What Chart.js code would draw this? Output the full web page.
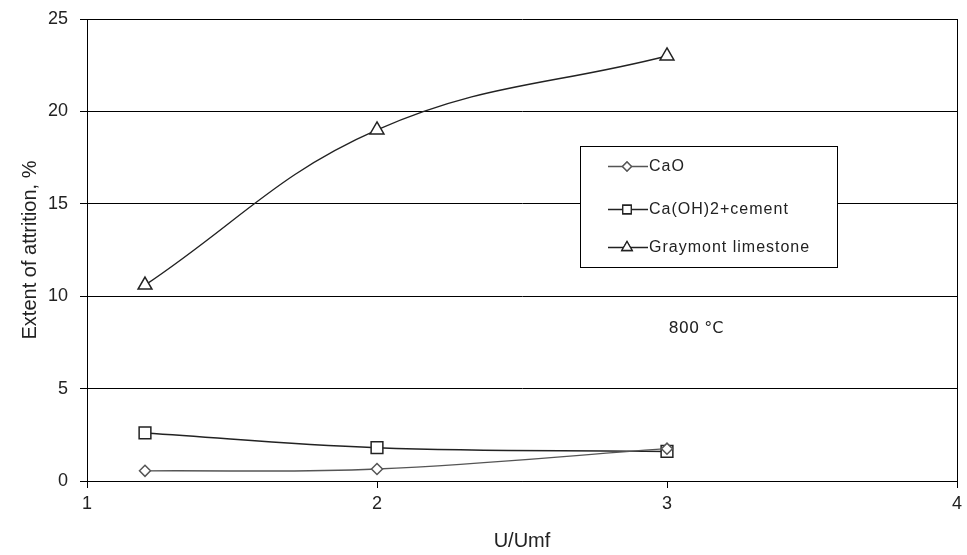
<!DOCTYPE html>
<html>
<head>
<meta charset="utf-8">
<script src="https://cdn.jsdelivr.net/npm/chart.js@4.4.1/dist/chart.umd.min.js"></script>
<style>
  html, body { margin: 0; padding: 0; background: #fff; }
  #wrap { width: 967px; height: 555px; }
</style>
</head>
<body>
<div id="wrap"><canvas id="chart" width="967" height="555"></canvas></div>
<script>
// ---- data ------------------------------------------------------------------
const xValues = [1.2, 2, 3];
const caoValues = [0.55, 0.65, 1.75];
const cementValues = [2.6, 1.8, 1.6];
const graymontValues = [10.6, 19.0, 23.0];
const seriesNames = ['CaO', 'Ca(OH)2+cement', 'Graymont limestone'];
const yTicks = [0, 5, 10, 15, 20, 25];
const xTicks = [1, 2, 3, 4];

const toPoints = (ys) => ys.map((y, i) => ({ x: xValues[i], y }));

// ---- plugins ---------------------------------------------------------------
const boxLegend = {
  id: 'boxLegend',
  afterDraw(chart) {
    const ctx = chart.ctx;
    const box = { x: 580.5, y: 146.5, w: 257, h: 121 };
    ctx.save();
    ctx.fillStyle = '#fff';
    ctx.fillRect(box.x, box.y, box.w, box.h);
    ctx.strokeStyle = '#000';
    ctx.lineWidth = 1;
    ctx.strokeRect(box.x, box.y, box.w, box.h);
    const rows = [166, 209, 247];
    chart.data.datasets.forEach((ds, i) => {
      const y = rows[i];
      ctx.strokeStyle = ds.borderColor;
      ctx.lineWidth = 1.3;
      ctx.beginPath();
      ctx.moveTo(608, y + 0.5);
      ctx.lineTo(648, y + 0.5);
      ctx.stroke();
      Chart.helpers.drawPoint(ctx, {
        pointStyle: ds.pointStyle,
        radius: ds.legendRadius,
        borderWidth: 1.3,
        rotation: 0,
      }, 627, y + 0.5);
      ctx.fillStyle = '#fff';
      ctx.strokeStyle = ds.pointBorderColor;
      ctx.fill();
      ctx.stroke();
      ctx.fillStyle = '#222';
      ctx.font = '16px "Liberation Sans", Arial, sans-serif';
      ctx.textBaseline = 'middle';
      ctx.textAlign = 'left';
      ctx.letterSpacing = '1px';
      ctx.fillText(ds.label, 649, y + 1);
    });
    ctx.restore();
  },
};

const note = { text: '800 °C', x: 3.1, y: 8.25 };
const noteLabel = {
  id: 'noteLabel',
  afterDraw(chart) {
    const ctx = chart.ctx;
    ctx.save();
    ctx.fillStyle = '#222';
    ctx.font = '16px "DejaVu Sans", sans-serif';
    ctx.textAlign = 'center';
    ctx.textBaseline = 'middle';
    ctx.fillText(note.text, chart.scales.x.getPixelForValue(note.x), chart.scales.y.getPixelForValue(note.y));
    ctx.restore();
  },
};

// ---- chart -----------------------------------------------------------------
Chart.defaults.font.family = '"Liberation Sans", Arial, sans-serif';

const lineDs = (label, values, style, radius, legendRadius, color) => ({
  label,
  data: toPoints(values),
  borderColor: color,
  borderWidth: 1.4,
  pointStyle: style,
  pointRadius: radius,
  pointHoverRadius: radius,
  legendRadius,
  pointBackgroundColor: '#fff',
  pointBorderColor: color,
  pointBorderWidth: 1.5,
  tension: 0.4,
  fill: false,
});

new Chart(document.getElementById('chart'), {
  type: 'line',
  data: {
    datasets: [
      lineDs(seriesNames[0], caoValues, 'rectRot', 5.5, 4.5, '#555'),
      lineDs(seriesNames[1], cementValues, 'rect', 8.3, 6, '#222'),
      lineDs(seriesNames[2], graymontValues, 'triangle', 8, 6, '#222'),
    ],
  },
  options: {
    responsive: false,
    animation: false,
    layout: { padding: { top: 19, right: 10, left: 0, bottom: 0 } },
    plugins: { legend: { display: false }, tooltip: { enabled: false } },
    scales: {
      x: {
        type: 'linear',
        min: 1,
        max: 4,
        afterBuildTicks: (s) => { s.ticks = xTicks.map((v) => ({ value: v })); },
        afterFit: (s) => { s.height = 74; s.paddingLeft = 0; s.paddingRight = 0; },
        ticks: { font: { size: 18 }, color: '#222', padding: 5 },
        grid: {
          color: (c) => (c.tick && c.tick.value === 4 ? '#000' : 'rgba(0,0,0,0)'),
          tickColor: '#000',
          tickLength: 7,
          lineWidth: 1,
        },
        border: { display: true, color: '#000', width: 1 },
        title: { display: true, text: 'U/Umf', font: { size: 20 }, color: '#222', padding: { top: 0, bottom: 2 } },
      },
      y: {
        min: 0,
        max: 25,
        afterBuildTicks: (s) => { s.ticks = yTicks.map((v) => ({ value: v })); },
        afterFit: (s) => { s.width = 87; s.paddingTop = 0; s.paddingBottom = 0; },
        ticks: { font: { size: 18 }, color: '#222', padding: 12 },
        grid: { color: '#000', tickColor: '#000', tickLength: 7, lineWidth: 1 },
        border: { display: true, color: '#000', width: 1 },
        title: { display: true, text: 'Extent of attrition, %', font: { size: 20 }, color: '#222', padding: { top: 18, bottom: 0 } },
      },
    },
  },
  plugins: [noteLabel, boxLegend],
});
</script>
</body>
</html>
